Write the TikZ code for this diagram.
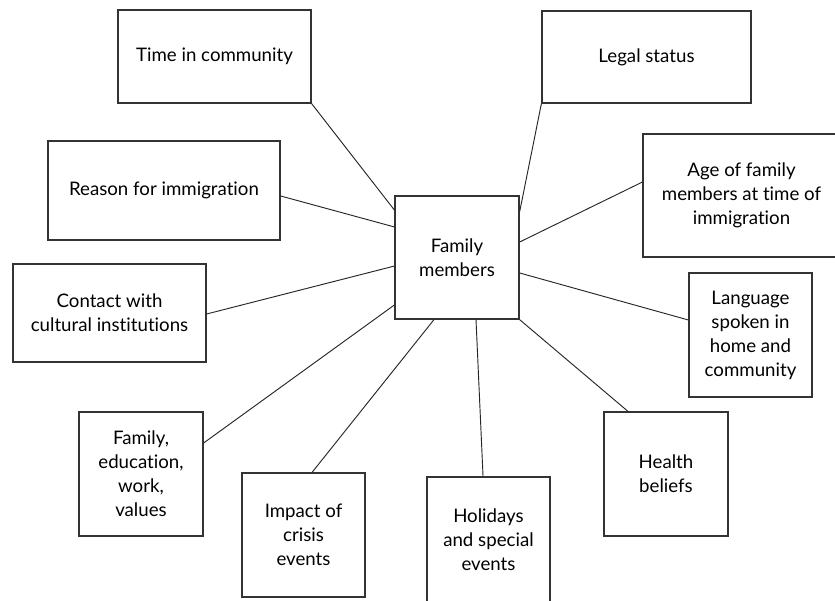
\documentclass[tikz,border=0pt]{standalone}
\usepackage{fontspec}
\setmainfont{Lato}[Ligatures={NoCommon,NoRare}]
\usetikzlibrary{calc}
\tikzset{
  box/.style={draw=black!80, line width=0.9pt, inner sep=0pt, align=center,
    font=\fontsize{14}{18}\selectfont, text=black},
  sz/.style 2 args={minimum width=#1*0.75pt, minimum height=#2*0.75pt},
  link/.style={draw=black!85, line width=0.7pt}
}
\begin{document}
\begin{tikzpicture}[x=0.75pt,y=-0.75pt]
\useasboundingbox (0,0) rectangle (835,600);
\clip (0,0) rectangle (835,600);
\fill[white] (0,0) rectangle (835,600);
\node[box, sz={124}{123}] (fm) at (457,257.5) {Family\\members};
\node[box, sz={193}{93}] (time) at (214.5,56.5) {Time in community};
\node[box, sz={209}{92}] (legal) at (646.5,57) {Legal status};
\node[box, sz={232}{99}] (reason) at (164,190.5) {Reason for immigration};
\node[box, sz={197}{123}] (age) at (741.5,195.5) {Age of family\\members at time of\\immigration};
\node[box, sz={193}{98}] (contact) at (109.5,313) {Contact with\\cultural institutions};
\node[box, sz={123}{124}] (lang) at (750.5,335) {Language\\spoken in\\home and\\community};
\node[box, sz={124}{124}] (famed) at (141,474) {Family,\\education,\\work,\\values};
\node[box, sz={123}{124}] (impact) at (303.5,535) {Impact of\\crisis\\events};
\node[box, sz={123}{125}] (holi) at (488.5,539.5) {Holidays\\and special\\events};
\node[box, sz={124}{124}] (health) at (666,474) {Health\\beliefs};

\draw[link] (time.south east) -- ([yshift=35.6pt]fm.west);
\draw[link] ([yshift=-4.1pt]reason.east) -- ([yshift=22.9pt]fm.west);
\draw[link] ([yshift=-0.75pt]contact.east) -- ([yshift=-6.4pt]fm.west);
\draw[link] ([yshift=23.25pt]famed.east) -- ([yshift=-35.6pt]fm.west);
\draw[link] ([xshift=6.4pt]impact.north) -- ([xshift=-17.25pt]fm.south);
\draw[link] ([xshift=-4.1pt]holi.north) -- ([xshift=14.25pt]fm.south);
\draw[link] ([xshift=-28.5pt]health.north) -- (fm.south east);
\draw[link] ([yshift=11.25pt]lang.west) -- ([yshift=-11.6pt]fm.east);
\draw[link] ([yshift=10.1pt]age.west) -- ([yshift=11.6pt]fm.east);
\draw[link] (legal.south west) -- ([yshift=34.1pt]fm.east);
\end{tikzpicture}
\end{document}
